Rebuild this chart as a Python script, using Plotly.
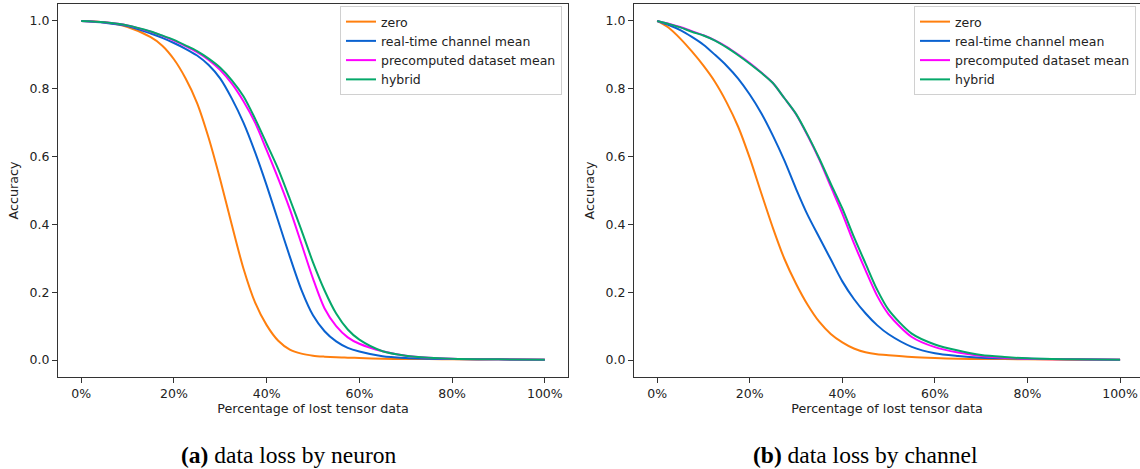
import plotly.graph_objects as go

# ---------------- data ----------------
x_neuron = [0, 5, 10, 15, 17.5, 20, 22.5, 25, 27.5, 30, 32.5, 35, 37.5, 40, 42.5, 45, 47.5,
            50, 52.5, 55, 57.5, 60, 65, 70, 75, 80, 90, 100]
neuron_zero = [1.0, 0.996, 0.982, 0.952, 0.927, 0.887, 0.831, 0.758, 0.655, 0.532, 0.398, 0.270,
               0.170, 0.103, 0.057, 0.031, 0.019, 0.013, 0.010, 0.008, 0.007, 0.006,
               0.004, 0.003, 0.003, 0.002, 0.002, 0.001]
neuron_realtime = [1.0, 0.995, 0.985, 0.963, 0.950, 0.935, 0.918, 0.898, 0.870, 0.830, 0.771, 0.700,
                   0.613, 0.515, 0.410, 0.305, 0.207, 0.132, 0.085, 0.055, 0.036, 0.025,
                   0.011, 0.006, 0.004, 0.003, 0.002, 0.001]
neuron_precomp = [1.0, 0.996, 0.987, 0.968, 0.956, 0.942, 0.926, 0.908, 0.885, 0.855, 0.815, 0.763,
                  0.700, 0.619, 0.535, 0.445, 0.343, 0.240, 0.152, 0.100, 0.067, 0.048,
                  0.026, 0.013, 0.007, 0.004, 0.002, 0.001]
neuron_hybrid = [1.0, 0.996, 0.987, 0.969, 0.957, 0.944, 0.928, 0.911, 0.889, 0.862, 0.825, 0.778,
                 0.712, 0.638, 0.563, 0.475, 0.383, 0.288, 0.205, 0.137, 0.090, 0.060,
                 0.026, 0.013, 0.007, 0.004, 0.002, 0.001]

x_channel = [0, 2.5, 5, 7.5, 10, 12.5, 15, 17.5, 20, 22.5, 25, 27.5, 30, 32.5, 35,
             37.5, 40, 42.5, 45, 47.5, 50, 55, 60, 65, 70, 75, 80, 90, 100]
channel_zero = [1.0, 0.980, 0.948, 0.910, 0.868, 0.820, 0.760, 0.688, 0.596, 0.492,
                0.390, 0.298, 0.225, 0.163, 0.113, 0.077, 0.052, 0.034, 0.023, 0.017,
                0.014, 0.009, 0.006, 0.004, 0.003, 0.003, 0.002, 0.001, 0.001]
channel_realtime = [1.0, 0.988, 0.973, 0.953, 0.930, 0.900, 0.868, 0.830, 0.783, 0.728,
                    0.662, 0.588, 0.505, 0.428, 0.362, 0.297, 0.232, 0.180, 0.138, 0.103,
                    0.076, 0.039, 0.020, 0.012, 0.007, 0.005, 0.004, 0.002, 0.001]
channel_precomp = [1.0, 0.992, 0.982, 0.970, 0.958, 0.943, 0.924, 0.901, 0.876, 0.848,
                   0.817, 0.772, 0.725, 0.662, 0.592, 0.512, 0.432, 0.345, 0.265, 0.190,
                   0.135, 0.068, 0.038, 0.022, 0.012, 0.007, 0.004, 0.002, 0.001]
channel_hybrid = [1.0, 0.991, 0.981, 0.968, 0.957, 0.942, 0.922, 0.899, 0.874, 0.847,
                  0.817, 0.772, 0.726, 0.664, 0.595, 0.520, 0.447, 0.363, 0.285, 0.208,
                  0.148, 0.078, 0.046, 0.028, 0.015, 0.009, 0.005, 0.002, 0.001]

series_names = ["zero", "real-time channel mean", "precomputed dataset mean", "hybrid"]
series_colors = ["#ff7f0e", "#0a62d0", "#ff00ff", "#05a86a"]
x_ticks = [0, 20, 40, 60, 80, 100]
x_tick_labels = ["0%", "20%", "40%", "60%", "80%", "100%"]
y_ticks = [0.0, 0.2, 0.4, 0.6, 0.8, 1.0]
y_tick_labels = ["0.0", "0.2", "0.4", "0.6", "0.8", "1.0"]
captions = ["<b>(a)</b> data loss by neuron", "<b>(b)</b> data loss by channel"]

# ---------------- figure ----------------
W, H = 1140, 469
fig = go.Figure()

panels = [
    (x_neuron, [neuron_zero, neuron_realtime, neuron_precomp, neuron_hybrid], "x", "y", "legend"),
    (x_channel, [channel_zero, channel_realtime, channel_precomp, channel_hybrid], "x2", "y2", "legend2"),
]
for xs, ys_list, xa, ya, lg in panels:
    for name, color, ys in zip(series_names, series_colors, ys_list):
        fig.add_trace(go.Scatter(
            x=xs, y=ys, name=name, mode="lines",
            line=dict(color=color, width=2, shape="spline", smoothing=0.8),
            xaxis=xa, yaxis=ya, legend=lg))

FONT = "DejaVu Sans"
TXT = "#222222"
axis_common = dict(
    showline=True, linecolor="#333333", linewidth=1.2, mirror=True,
    ticks="outside", ticklen=5, tickwidth=1.2, tickcolor="#333333",
    showgrid=False, zeroline=False,
    tickfont=dict(family=FONT, size=12.5, color=TXT),
)

def px_x(p):
    return p / W

def px_y(p):
    return (H - p) / H

xdom1 = [px_x(58), px_x(568)]
xdom2 = [px_x(634), 1.0]
ydom = [px_y(377), px_y(4)]

xa = dict(axis_common, range=[-5, 105], tickmode="array", tickvals=x_ticks,
          ticktext=x_tick_labels,
          title=dict(text="Percentage of lost tensor data", standoff=4,
                     font=dict(family=FONT, size=12.7, color=TXT)))
ya = dict(axis_common, range=[-0.05, 1.05], tickmode="array", tickvals=y_ticks,
          ticktext=y_tick_labels,
          title=dict(text="Accuracy", standoff=8,
                     font=dict(family=FONT, size=12.7, color=TXT)))

legend_common = dict(xanchor="right", yanchor="top",
                     bgcolor="rgba(255,255,255,0.85)", bordercolor="#d0d0d0", borderwidth=1,
                     font=dict(family=FONT, size=12.5, color=TXT),
                     tracegroupgap=0, itemwidth=30)

fig.update_layout(
    width=W, height=H,
    margin=dict(l=0, r=0, t=0, b=0),
    paper_bgcolor="white", plot_bgcolor="white",
    font=dict(family=FONT, size=12, color=TXT),
    xaxis=dict(xa, domain=xdom1, anchor="y", automargin=False),
    yaxis=dict(ya, domain=ydom, anchor="x", automargin=False),
    xaxis2=dict(xa, domain=xdom2, anchor="y2", range=[-5, 104.3], automargin=False),
    yaxis2=dict(ya, domain=ydom, anchor="x2", automargin=False),
    legend=dict(legend_common, x=px_x(562), y=px_y(6)),
    legend2=dict(legend_common, x=px_x(1136), y=px_y(6)),
    showlegend=True,
)

for cap, cx in zip(captions, [289, 865]):
    fig.add_annotation(text=cap, x=px_x(cx), y=px_y(455), xref="paper", yref="paper",
                       showarrow=False, xanchor="center", yanchor="middle",
                       font=dict(family="Liberation Serif", size=23.5, color="black"))

fig.write_html("out.html")
